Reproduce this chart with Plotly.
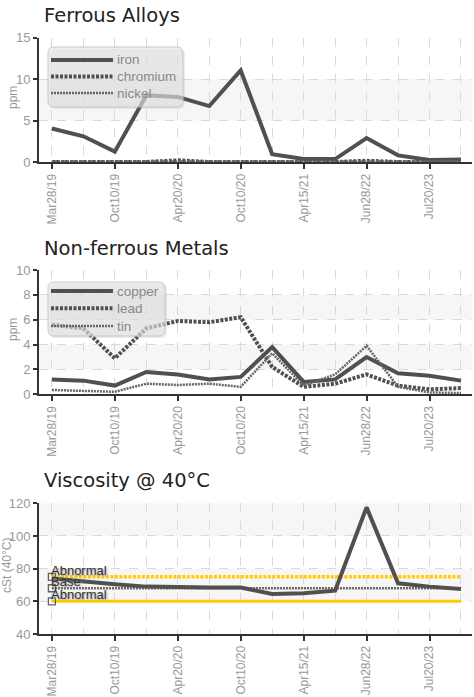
import plotly.graph_objects as go

# ---------------- data ----------------
tick_labels = ["Mar28/19", "Oct10/19", "Apr20/20", "Oct10/20", "Apr15/21", "Jun28/22", "Jul20/23"]

iron = [4.05, 3.1, 1.25, 8.05, 7.85, 6.75, 11.05, 0.95, 0.35, 0.35, 2.9, 0.8, 0.25, 0.3]
chromium = [0.0, 0.0, 0.0, 0.0, 0.2, 0.0, 0.0, 0.0, 0.0, 0.0, 0.15, 0.0, 0.0, 0.0]
nickel = [0.05, 0.05, 0.05, 0.05, 0.05, 0.05, 0.05, 0.05, 0.05, 0.05, 0.05, 0.05, 0.05, 0.05]

copper = [1.2, 1.1, 0.7, 1.8, 1.6, 1.2, 1.4, 3.8, 1.0, 1.2, 3.0, 1.7, 1.5, 1.1]
lead = [5.6, 5.3, 2.9, 5.3, 5.9, 5.8, 6.2, 2.2, 0.6, 0.85, 1.6, 0.7, 0.4, 0.5]
tin = [0.35, 0.3, 0.2, 0.85, 0.75, 0.85, 0.6, 3.3, 0.7, 1.6, 3.9, 0.6, 0.15, 0.1]

viscosity = [74, 72, 70.5, 69, 68.5, 68.5, 68.5, 64.5, 65, 66.5, 117.5, 71, 69, 67.5]
visc_limit_names = ["Abnormal", "Base", "Abnormal"]
visc_limit_values = [75, 68, 60]

# ---------------- styling ----------------
W, H = 474, 697
TICK_FONT = "Liberation Sans, Arial, sans-serif"
TITLE_FONT = "DejaVu Sans, Verdana, sans-serif"
DARK = "#505050"
YELLOW = "#FFCC00"

STYLE_SOLID = dict(color=DARK, width=4)
STYLE_THICK_DOT = dict(color=DARK, width=4, dash="3px,1.5px")
STYLE_THIN_DOT = dict(color="#666666", width=2.5, dash="2px,1px")

n = len(iron)
xs = list(range(n))
tickvals = list(range(0, n, 2))


def px_x(p):
    return p / W


def px_y(p):
    return 1 - p / H


x_dom = [px_x(39), px_x(472)]
y_doms = [
    [px_y(162), px_y(37.7)],
    [px_y(394.3), px_y(270)],
    [px_y(634), px_y(503.3)],
]
y_ranges = [[0, 15], [0, 10], [40, 120]]
y_dticks = [5, 2, 20]
bands = [[(5, 10)], [(2, 4), (6, 8)], [(60, 80), (100, 120)]]

fig = go.Figure()

# --- metals
metal_series_1 = [("iron", iron, STYLE_SOLID), ("chromium", chromium, STYLE_THICK_DOT),
                  ("nickel", nickel, STYLE_THIN_DOT)]
metal_series_2 = [("copper", copper, STYLE_SOLID), ("lead", lead, STYLE_THICK_DOT),
                  ("tin", tin, STYLE_THIN_DOT)]
for name, vals, st in metal_series_1:
    fig.add_trace(go.Scatter(x=xs, y=vals, name=name, mode="lines", line=st,
                             showlegend=False, xaxis="x", yaxis="y"))
for name, vals, st in metal_series_2:
    fig.add_trace(go.Scatter(x=xs, y=vals, name=name, mode="lines", line=st,
                             showlegend=False, xaxis="x2", yaxis="y2"))

# --- Viscosity
limit_styles = [
    dict(color=YELLOW, width=3.5, dash="3px,1.5px"),
    dict(color="#666666", width=2.5, dash="2px,1px"),
    dict(color=YELLOW, width=3, dash="solid"),
]
for name, val, st in zip(visc_limit_names, visc_limit_values, limit_styles):
    fig.add_trace(go.Scatter(
        x=xs, y=[val] * n, name=name, mode="lines+markers", showlegend=False,
        line=st,
        marker=dict(symbol="square-open", size=[7] + [0] * (n - 1), color="#222222",
                    line=dict(width=1.3, color="#222222")),
        xaxis="x3", yaxis="y3"))
    fig.add_annotation(x=0, y=val, xref="x3", yref="y3", text=name, showarrow=False,
                       xanchor="left", yanchor="bottom", xshift=-3, yshift=-3,
                       font=dict(family=TICK_FONT, size=13, color="#333333",
                                 shadow="1px 1px 2px #999"))

fig.add_trace(go.Scatter(x=xs, y=viscosity, name="viscosity", mode="lines", showlegend=False,
                         line=dict(color=DARK, width=4), xaxis="x3", yaxis="y3"))

# ---------------- axes ----------------
axis_common = dict(
    showline=True, linecolor="#333333", linewidth=2,
    ticks="outside", tickcolor="#333333", ticklen=5, tickwidth=2,
    tickfont=dict(family=TICK_FONT, size=12, color="#999999"),
    zeroline=False, automargin=False,
)
for i in range(3):
    sfx = "" if i == 0 else str(i + 1)
    fig.update_layout({
        f"xaxis{sfx}": dict(
            axis_common, domain=x_dom, anchor=f"y{sfx}", range=[-0.41, 13.35],
            tickmode="array", tickvals=tickvals, ticktext=tick_labels, tickangle=-90,
            showgrid=False,
            minor=dict(dtick=1, tick0=0, showgrid=True, gridcolor="#d9d9d9",
                       griddash="dash", gridwidth=1, ticks=""),
        ),
        f"yaxis{sfx}": dict(
            axis_common, domain=y_doms[i], anchor=f"x{sfx}", range=y_ranges[i],
            dtick=y_dticks[i], tick0=y_ranges[i][0], ticklen=4,
            tickfont=dict(family=TICK_FONT, size=13, color="#999999"),
            showgrid=True, gridcolor="#d9d9d9", griddash="dash", gridwidth=1,
        ),
    })
    for (a, b) in bands[i]:
        fig.add_shape(type="rect", xref=f"x{sfx} domain", yref=f"y{sfx}",
                      x0=0, x1=1, y0=a, y1=b, fillcolor="#f6f6f6", line_width=0, layer="below")

# ---------------- titles ----------------
titles = [("Ferrous Alloys", 16), ("Non-ferrous Metals", 248), ("Viscosity @ 40\u00b0C", 480)]
for t, yp in titles:
    fig.add_annotation(text=t, xref="paper", yref="paper", x=px_x(42), y=px_y(yp),
                       xanchor="left", yanchor="middle", showarrow=False,
                       font=dict(family=TITLE_FONT, size=19.5, color="#222222"))

ytitles = [("ppm", 13, 98), ("ppm", 13, 330), ("cSt (40\u00b0C)", 7, 566)]
for t, xp, yp in ytitles:
    fig.add_annotation(text=t, xref="paper", yref="paper", x=px_x(xp), y=px_y(yp),
                       xanchor="center", yanchor="middle", showarrow=False, textangle=-90,
                       font=dict(family=TICK_FONT, size=12, color="#999999"))


# ---------------- legends (drawn as boxes over the plots) ----------------
def rounded_rect_path(x0, y0, x1, y1, r):
    pts = [
        ("M", x0 + r, y0), ("L", x1 - r, y0), ("Q", x1, y0, x1, y0 + r),
        ("L", x1, y1 - r), ("Q", x1, y1, x1 - r, y1), ("L", x0 + r, y1),
        ("Q", x0, y1, x0, y1 - r), ("L", x0, y0 + r), ("Q", x0, y0, x0 + r, y0),
    ]
    out = []
    for p in pts:
        cmd = p[0]
        coords = p[1:]
        s = " ".join(f"{px_x(coords[k]):.5f},{px_y(coords[k + 1]):.5f}" for k in range(0, len(coords), 2))
        out.append(f"{cmd} {s}")
    return " ".join(out) + " Z"


legend_boxes = [
    (metal_series_1, (48, 47, 183, 107), [60, 76.5, 93]),
    (metal_series_2, (48, 282, 165, 336), [291, 308.3, 326]),
]
for series, (bx0, by0, bx1, by1), rows in legend_boxes:
    fig.add_shape(type="path", xref="paper", yref="paper",
                  path=rounded_rect_path(bx0 + 2, by0 + 2, bx1 + 2, by1 + 2, 6),
                  fillcolor="rgba(150,150,150,0.18)", line_width=0)
    fig.add_shape(type="path", xref="paper", yref="paper",
                  path=rounded_rect_path(bx0, by0, bx1, by1, 6),
                  fillcolor="rgba(228,228,228,0.6)", line=dict(color="rgba(190,190,190,0.8)", width=1))
    for (name, _vals, st), ry in zip(series, rows):
        fig.add_shape(type="line", xref="paper", yref="paper",
                      x0=px_x(51), x1=px_x(113), y0=px_y(ry), y1=px_y(ry), line=st)
        fig.add_annotation(text=name, xref="paper", yref="paper", x=px_x(115), y=px_y(ry),
                           xanchor="left", yanchor="middle", showarrow=False,
                           font=dict(family=TICK_FONT, size=13.5, color="#888888"))

fig.update_layout(
    width=W, height=H,
    margin=dict(l=0, r=0, t=0, b=0),
    paper_bgcolor="white", plot_bgcolor="white",
    showlegend=False,
)

fig.write_html("out.html", config={"displayModeBar": False},
               post_script="document.body.style.margin='0';")
